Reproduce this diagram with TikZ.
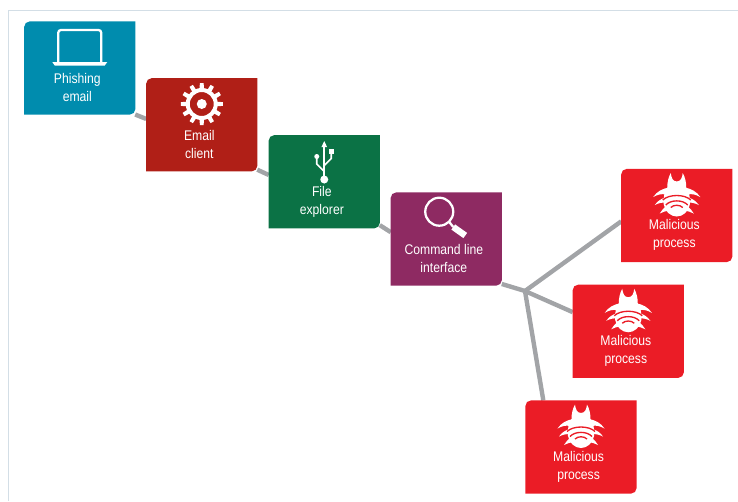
\documentclass[tikz,border=0pt]{standalone}
\usepackage{fontspec}
\setmainfont[FakeStretch=0.87]{Liberation Sans}
\usetikzlibrary{backgrounds}

\definecolor{mailblue}{HTML}{008CAE}
\definecolor{clientred}{HTML}{B01F17}
\definecolor{filegreen}{HTML}{0B7245}
\definecolor{cmdpurple}{HTML}{8E2A62}
\definecolor{badred}{HTML}{EB1C26}
\definecolor{linkgray}{HTML}{A2A4A7}
\definecolor{framegray}{HTML}{D3DEE6}

\newcommand{\tileback}[2]{\fill[#2] (#1.west) [rounded corners=4] -- (#1.north west) [sharp corners] -- (#1.north east) [rounded corners=4] -- (#1.south east) [sharp corners] -- (#1.south west) -- cycle;}

\tikzset{
  bug/.pic={
    \fill[white] (-6,-42.5) .. controls (-5.5,-38) and (-4,-34) .. (0,-34) .. controls (4,-34) and (5.5,-38) .. (6,-42.5) .. controls (8.5,-38) and (9.5,-33) .. (9.5,-28) .. controls (12,-25) and (14,-17) .. (13,-11) .. controls (12,-4) and (6,1) .. (0,1) .. controls (-6,1) and (-12,-4) .. (-13,-11) .. controls (-14,-17) and (-12,-25) .. (-9.5,-28) .. controls (-9.5,-33) and (-8.5,-38) .. (-6,-42.5) -- cycle;
    \foreach \s in {-1,1}{
      \begin{scope}[xscale=\s]
        \fill[white] (8,-28) .. controls (14,-27) and (20,-24) .. (23.5,-18.5) .. controls (19,-21) and (15,-22) .. (11,-21) -- cycle;
        \fill[white] (11,-18) .. controls (15,-17) and (19,-15) .. (22,-10.5) .. controls (18,-12.5) and (15,-13) .. (11,-13) -- cycle;
        \fill[white] (10,-10) .. controls (13,-8) and (15,-5) .. (17,-2) .. controls (14,-3.5) and (11,-4.5) .. (8,-5) -- cycle;
      \end{scope}
    }
    \draw[badred,line width=1pt] (-14,-15.5) .. controls (-8,-21.5) and (8,-21.5) .. (14,-15.5);
    \draw[badred,line width=1pt] (-11,-10.5) .. controls (-6,-16) and (6,-16) .. (11,-10.5);
    \draw[badred,line width=1pt] (-6,-8) .. controls (-3,-11) and (3,-11) .. (6,-8);
  },
  gear/.pic={
    \foreach \a in {0,30,...,330}{
      \fill[white,rotate=\a] (-2.2,-15) -- (-1.9,-21) -- (1.9,-21) -- (2.2,-15) -- cycle;
    }
    \draw[white,line width=3pt] (0,0) circle (14);
    \fill[white] (0,0) circle (5);
  },
  laptop/.pic={
    \draw[white,line width=1.7pt,rounded corners=2] (-21.5,-6) -- (-21.5,-38) -- (21.5,-38) -- (21.5,-6);
    \fill[white] (-27.5,-6) -- (27.5,-6) -- (25,-2.5) -- (-25,-2.5) -- cycle;
  },
  usb/.pic={
    \draw[white,line width=1.2pt] (0,0) -- (0,-34);
    \fill[white] (-2.8,-32.5) -- (0,-38.5) -- (2.8,-32.5) -- cycle;
    \fill[white] (0,0) circle (4);
    \draw[white,line width=1.2pt] (0,-8) -- (-7.5,-15.5) -- (-7.5,-23);
    \fill[white] (-7.5,-23) circle (2.5);
    \draw[white,line width=1.2pt] (0,-14) -- (7,-21) -- (7,-27);
    \fill[white] (4.5,-31) rectangle (9.5,-26);
  },
  lens/.pic={
    \draw[white,line width=1.7pt] (-7,-27.3) circle (14);
    \draw[white,line width=1.7pt] (3,-17) -- (7,-12);
    \draw[white,line width=4.8pt] (7,-12) -- (19,-3.5);
  }
}

\begin{document}
\begin{tikzpicture}[x=0.75pt,y=-0.75pt]
  \tikzstyle{tile}=[rectangle,inner sep=0pt,minimum width=82.9pt,minimum height=69.4pt]
  \tikzstyle{tiletext}=[font=\fontsize{10.5}{13.5}\selectfont,text=white,align=center,inner sep=0pt,xshift=-1.8pt,yshift=-14.8pt]
  \tikzstyle{edge}=[draw=linkgray,line width=3.3pt]

  \useasboundingbox (0,0) rectangle (738,501);
  \draw[framegray,line width=1pt] (8.5,501) -- (8.5,10.5) -- (738,10.5);

  \node [tile,label={[tiletext,name=mailtext]center:Phishing\\email}] (mail) at (79.75,68) {};
  \node [tile,label={[tiletext,name=clienttext]center:Email\\client}] (client) at (201.75,124.75) {};
  \node [tile,label={[tiletext,name=filetext]center:File\\explorer}] (file) at (324.25,181.75) {};
  \node [tile,label={[tiletext,name=cmdtext]center:Command line\\interface}] (cmd) at (446.25,239) {};
  \node [tile,label={[tiletext,name=badtexta]center:Malicious\\process}] (bada) at (676.75,215.5) {};
  \node [tile,label={[tiletext,name=badtextb]center:Malicious\\process}] (badb) at (628.25,331.25) {};
  \node [tile,label={[tiletext,name=badtextc]center:Malicious\\process}] (badc) at (581,447) {};
  \coordinate (hub) at (525,291);

  \pic at (mail) {laptop};
  \pic at (201.75,104) {gear};
  \pic at (324.25,179.5) {usb};
  \pic at (cmd) {lens};
  \pic at (bada) {bug};
  \pic at (badb) {bug};
  \pic at (badc) {bug};

  \begin{scope}[on background layer]
    \path[edge] (mail.-40) edge (client.174);
    \path[edge] (client.-39) edge (file.173.5);
    \path[edge] (file.-38) edge (cmd.173);
    \path[edge] (cmd.-39) edge (hub);
    \path[edge] (hub) edge (bada.186.7);
    \path[edge] (hub) edge (badb.161.7);
    \path[edge] (hub) edge (badc.129.3);

    \tileback{mail}{mailblue}
    \tileback{client}{clientred}
    \tileback{file}{filegreen}
    \tileback{cmd}{cmdpurple}
    \tileback{bada}{badred}
    \tileback{badb}{badred}
    \tileback{badc}{badred}
  \end{scope}
\end{tikzpicture}
\end{document}
